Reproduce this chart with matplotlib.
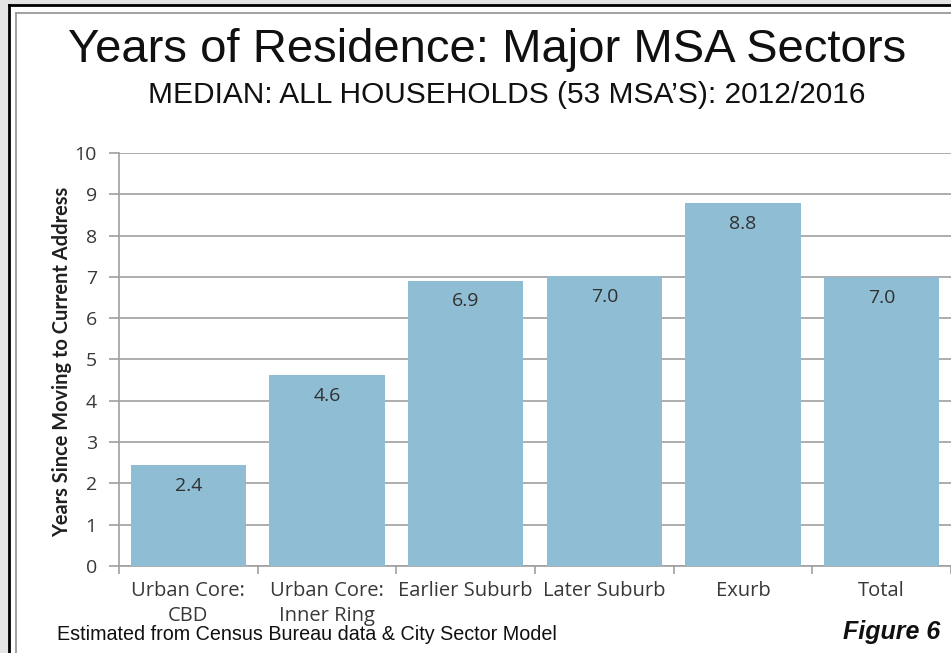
import matplotlib
matplotlib.use("Agg")
import matplotlib.pyplot as plt
from matplotlib.patches import Rectangle
from matplotlib.lines import Line2D

categories = ["Urban Core:\nCBD", "Urban Core:\nInner Ring", "Earlier Suburb",
              "Later Suburb", "Exurb", "Total"]
values = [2.45, 4.62, 6.91, 7.02, 8.78, 7.0]
value_labels = ["2.4", "4.6", "6.9", "7.0", "8.8", "7.0"]
yticks = list(range(0, 11))

W, H = 951, 653
fig = plt.figure(figsize=(W / 100, H / 100), dpi=100)
fig.patch.set_facecolor("white")

def fx(px):
    return px / W

def fy(py):
    return 1 - py / H

# outside background (left strip / top strip)
fig.patches.append(Rectangle((0, 0), fx(9), 1, transform=fig.transFigure,
                             facecolor="#e4e4e4", edgecolor="none", zorder=0))
fig.patches.append(Rectangle((0, fy(5)), 1, 1 - fy(5), transform=fig.transFigure,
                             facecolor="#e4e4e4", edgecolor="none", zorder=0))
# frame lines
fig.lines.append(Line2D([fx(9), 1], [fy(5), fy(5)], transform=fig.transFigure,
                        color="black", lw=2))
fig.lines.append(Line2D([fx(9), fx(9)], [0, fy(5)], transform=fig.transFigure,
                        color="black", lw=2))
fig.lines.append(Line2D([fx(16), 1], [fy(13), fy(13)], transform=fig.transFigure,
                        color="#909090", lw=1.2))
fig.lines.append(Line2D([fx(16), fx(16)], [0, fy(13)], transform=fig.transFigure,
                        color="#909090", lw=1.2))

ax = fig.add_axes([fx(119), fy(566), fx(951) - fx(119), fy(153) - fy(566)])
x = list(range(len(categories)))
ax.bar(x, values, width=0.83, color="#8fbdd3", zorder=3)
ax.set_xlim(-0.5, len(categories) - 0.5)
ax.set_ylim(0, 10)
ax.set_yticks(yticks)
ax.set_yticklabels([str(t) for t in yticks], fontfamily="Open Sans", fontsize=14,
                   color="#383838")
ax.yaxis.grid(True, color="#a0a0a0", lw=1.2, zorder=0)
ax.tick_params(axis="y", length=7, color="#a0a0a0", width=1.2, pad=9)
ax.set_xticks(x)
ax.set_xticklabels(categories, fontfamily="Open Sans", fontsize=14.5, color="#383838",
                   linespacing=1.32)
ax.tick_params(axis="x", length=0, pad=11)
ax.set_xticks([i + 0.5 for i in range(-1, len(categories))], minor=True)
ax.tick_params(axis="x", which="minor", length=6, color="#a0a0a0", width=1.2)
for s in ["top", "right"]:
    ax.spines[s].set_visible(False)
for s in ["left", "bottom"]:
    ax.spines[s].set_color("#a0a0a0")
    ax.spines[s].set_linewidth(1.2)

for xi, v, lab in zip(x, values, value_labels):
    ax.annotate(lab, (xi, v), xytext=(0, -15), textcoords="offset points",
                ha="center", va="center", fontfamily="Open Sans", fontsize=14,
                color="#303030", zorder=4)

fig.text(fx(62), fy(362), "Years Since Moving to Current Address", rotation=90,
         ha="center", va="center", fontfamily="Lato", fontweight="bold",
         fontsize=14.4, color="#202020")

fig.text(fx(487), fy(50), "Years of Residence: Major MSA Sectors", ha="center",
         va="center", fontfamily="Liberation Sans", fontsize=34, color="#101010")
fig.text(fx(507), fy(95), "MEDIAN: ALL HOUSEHOLDS (53 MSA\u2019S): 2012/2016",
         ha="center", va="center", fontfamily="Liberation Sans", fontsize=21.5,
         color="#101010")
fig.text(fx(57), fy(634), "Estimated from Census Bureau data & City Sector Model",
         ha="left", va="center", fontfamily="Liberation Sans", fontsize=14.2,
         color="#101010")
fig.text(fx(940), fy(632), "Figure 6", ha="right", va="center",
         fontfamily="Liberation Sans", fontsize=18, fontweight="bold",
         fontstyle="italic", color="#101010")

fig.savefig("out.png", dpi=100, facecolor=fig.get_facecolor())
